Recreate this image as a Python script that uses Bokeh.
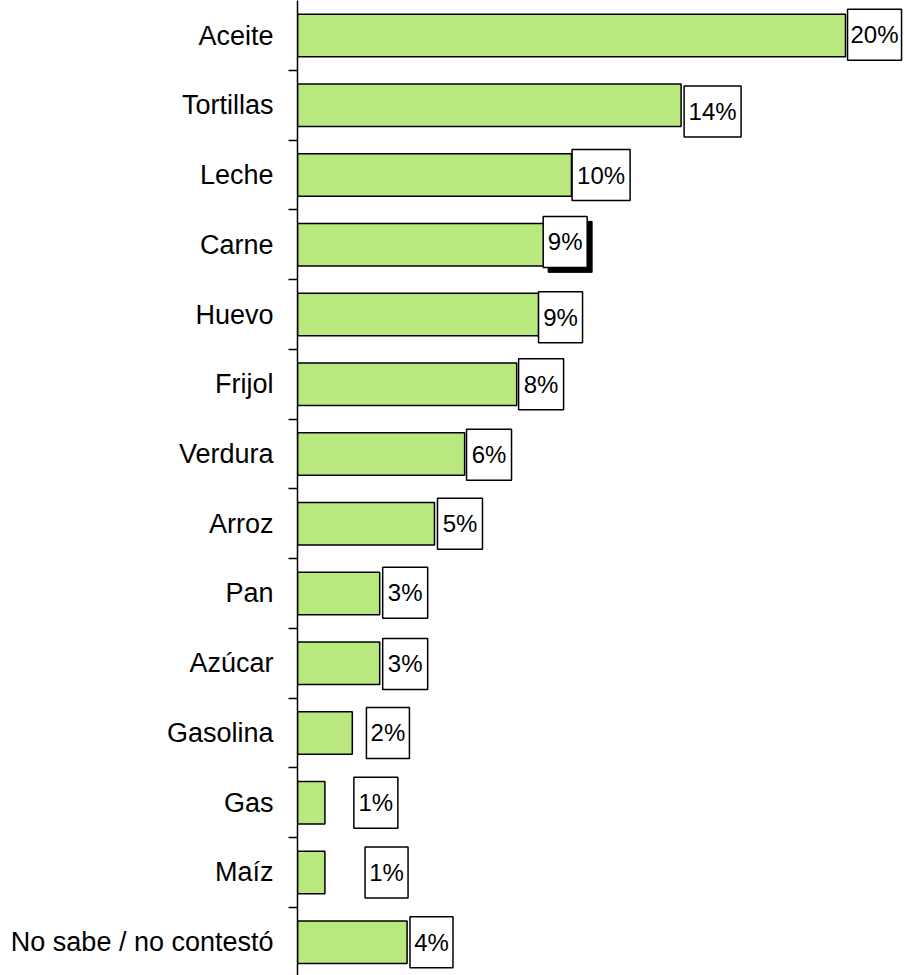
from bokeh.plotting import figure
from bokeh.models import ColumnDataSource, Range1d, FixedTicker
from bokeh.core.properties import value
from bokeh.embed import file_html
from bokeh.resources import INLINE

categories = ["Aceite", "Tortillas", "Leche", "Carne", "Huevo", "Frijol", "Verdura",
              "Arroz", "Pan", "Azúcar", "Gasolina", "Gas", "Maíz", "No sabe / no contestó"]
values = [20.0, 14.0, 10.0, 9.0, 8.8, 8.0, 6.1, 5.0, 3.0, 3.0, 2.0, 1.0, 1.0, 4.0]
labels = ["20%", "14%", "10%", "9%", "9%", "8%", "6%", "5%", "3%", "3%", "2%", "1%", "1%", "4%"]

# label placement styles (data units: % along x, rows along y)
label_dx = [1.06, 1.15, 1.08, 0.77, 0.80, 0.89, 0.89, 0.93, 0.93, 0.93, 1.30, 1.86, 2.25, 0.89]
label_dy = [-0.01, 0.09, 0.0, -0.04, 0.04, 0.0, 0.01, 0.0, -0.01, 0.01, 0.0, 0.0, 0.0, 0.0]
label_w = [54, 57, 58, 44, 44, 45, 45, 45, 45, 45, 43, 44, 43, 43]
shadow_rows = [3]

FONT = "Liberation Sans"
BAR_COLOR = "#B8E87E"

ypos = list(range(len(categories)))
src = ColumnDataSource(dict(
    y=ypos, v=values, cat=categories,
))
lab = ColumnDataSource(dict(
    x=[v + d for v, d in zip(values, label_dx)],
    y=[i + d for i, d in zip(ypos, label_dy)],
    w=label_w,
    t=labels,
))
sh = ColumnDataSource(dict(
    x=[values[i] + label_dx[i] + 0.18 for i in shadow_rows],
    y=[ypos[i] + label_dy[i] + 0.07 for i in shadow_rows],
    w=[label_w[i] for i in shadow_rows],
))

p = figure(width=904, height=975, output_backend="svg", toolbar_location=None,
           x_range=Range1d(0, 607 / 27.4), y_range=Range1d(13.477, -0.502),
           min_border_left=297, min_border_right=0, min_border_top=0, min_border_bottom=0,
           x_axis_location=None)
p.outline_line_color = None
p.grid.visible = False
p.background_fill_color = "white"

p.hbar(y="y", left=0, right="v", height=0.61, source=src,
       fill_color=BAR_COLOR, line_color="black", line_width=1.5)

p.rect(x="x", y="y", width="w", height=51, width_units="screen", height_units="screen",
       source=sh, fill_color="black", line_color="black")
p.rect(x="x", y="y", width="w", height=51, width_units="screen", height_units="screen",
       source=lab, fill_color="white", line_color="black", line_width=1.5)
p.text(x="x", y="y", text="t", source=lab, text_align="center", text_baseline="middle",
       text_font=value(FONT), text_font_size="24px", text_color="black")

yax = p.yaxis[0]
yax.ticker = FixedTicker(ticks=ypos, minor_ticks=[i + 0.5 for i in ypos])
yax.major_label_overrides = {i: c for i, c in zip(ypos, categories)}
yax.major_tick_out = 0
yax.major_tick_in = 0
yax.minor_tick_out = 9
yax.minor_tick_in = 0
yax.minor_tick_line_color = "black"
yax.minor_tick_line_width = 1.5
yax.axis_line_color = "black"
yax.axis_line_width = 1.5
yax.major_label_standoff = 15
yax.major_label_text_font = FONT
yax.major_label_text_font_size = "27px"
yax.major_label_text_color = "black"

open("out.html", "w").write(file_html(p, INLINE))
